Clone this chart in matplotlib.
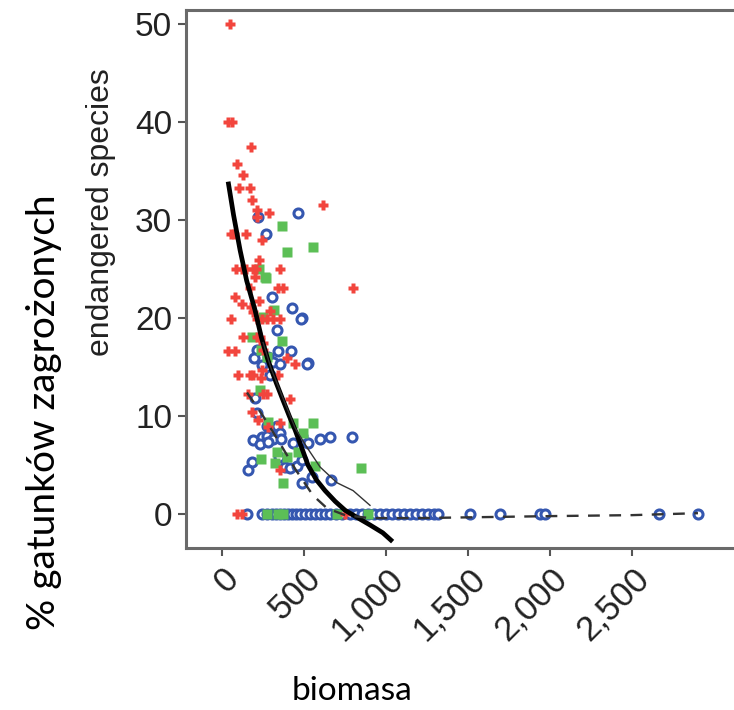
import numpy as np
import matplotlib.pyplot as plt

plt.rcParams['font.family'] = ['Liberation Sans', 'DejaVu Sans']

# red series (+)
red_x = [49, 35, 63, 177, 92, 128, 104, 171, 183, 213, 287, 616, 213, 55, 75, 146, 244, 226,
         85, 122, 146, 189, 207, 354, 201, 799, 341, 372, 171, 79, 226, 122, 177, 189, 293,
         55, 213, 244, 274, 311, 354, 128, 213, 232, 250, 37, 79, 250, 396, 445, 98, 171,
         189, 238, 341, 244, 159, 250, 274, 415, 183, 220, 354, 280, 354, 91, 122, 750]
red_y = [50, 40, 40, 37.4, 35.7, 34.6, 33.3, 33.3, 32.0, 31.0, 30.7, 31.5, 30.3, 28.6, 28.6,
         28.6, 28.0, 25.9, 25.0, 25.0, 25.0, 25.0, 25.0, 25.0, 24.2, 23.1, 23.1, 23.1, 23.1,
         22.1, 21.7, 21.4, 21.1, 20.6, 20.7, 19.9, 19.9, 19.9, 19.9, 19.9, 19.9, 18.1, 18.1,
         18.1, 17.4, 16.6, 16.6, 16.7, 15.9, 15.3, 14.2, 14.2, 14.2, 13.9, 14.2, 14.7, 12.3,
         12.3, 12.3, 11.7, 10.4, 9.6, 9.3, 8.9, 4.5, 0, 0, 0]

# green series (squares)
green_x = [366, 396, 555, 226, 262, 268, 250, 317, 183, 366, 238, 274, 229, 280, 433, 494,
           555, 238, 335, 463, 323, 396, 372, 567, 848, 274, 341, 372, 701, 890]
green_y = [29.4, 26.7, 27.2, 25.0, 24.2, 24.1, 20.1, 20.8, 18.1, 17.7, 16.7, 16.0, 12.7, 9.4,
           9.3, 8.3, 9.3, 5.6, 6.3, 6.3, 5.2, 5.8, 3.2, 4.9, 4.7, 0, 0, 0, 0, 0]

# blue series (open circles)
blue_x = [219, 463, 268, 488, 524, 305, 427, 482, 335, 213, 341, 421, 195, 280, 311, 354,
          518, 293, 244, 201, 213, 274, 335, 293, 354, 244, 274, 311, 360, 189, 232, 280,
          433, 485, 521, 348, 183, 159, 384, 415, 457, 488, 598, 659, 793, 488, 549, 665]
blue_y = [30.3, 30.7, 28.6, 20.0, 15.4, 22.1, 21.0, 19.9, 18.8, 16.7, 16.6, 16.6, 15.9, 16.0,
          15.5, 15.3, 15.3, 14.2, 15.2, 11.8, 10.3, 9.0, 9.0, 8.3, 8.3, 7.9, 8.0, 7.7, 7.7,
          7.6, 7.2, 7.4, 7.3, 8.0, 7.3, 5.8, 5.3, 4.5, 4.8, 4.7, 4.9, 3.2, 7.7, 7.9, 7.9, 5.5,
          3.8, 3.5]
blue_zero_x = [152, 244, 274, 305, 329, 354, 378, 402, 427, 451, 476, 506, 537, 567, 598,
               628, 659, 695, 732, 780, 817, 854, 890, 927, 963, 1000, 1037, 1073, 1110,
               1146, 1183, 1220, 1256, 1293, 1317, 1512, 1695, 1939, 1970, 2665, 2902]

# trend lines
thick_x = [37, 70, 110, 150, 201, 240, 280, 330, 372, 410, 445, 485, 524, 575, 628, 690,
           750, 830, 902, 980, 1040]
thick_y = [33.9, 30.5, 26.9, 23.8, 20.8, 18.0, 15.7, 13.4, 11.6, 10.0, 8.6, 6.8, 5.0, 3.5,
           2.4, 1.3, 0.4, -0.4, -1.1, -1.9, -2.8]
thin_x = [250, 300, 372, 445, 518, 598, 701, 799, 902]
thin_y = [17.5, 14.8, 11.8, 8.8, 6.8, 4.8, 3.2, 2.4, 0.9]
dash_x = [152, 250, 350, 450, 555, 640, 750, 900, 1200, 1600, 2000, 2500, 2902]
dash_y = [12.4, 10.0, 7.3, 4.5, 1.9, 0.6, -0.1, -0.4, -0.4, -0.3, -0.2, -0.1, 0.1]

xticks = [0, 500, 1000, 1500, 2000, 2500]
xtick_labels = ["0", "500", "1,000", "1,500", "2,000", "2,500"]
yticks = [0, 10, 20, 30, 40, 50]

fig = plt.figure(figsize=(7.34, 7.10), dpi=100)
ax = fig.add_axes([186 / 734, 162 / 710, 560 / 734, 538 / 710])

ax.plot(blue_zero_x, np.zeros(len(blue_zero_x)), 'o', ms=6.5, mfc='white', mec='#3557b0', mew=2.2, zorder=3)
ax.plot(blue_x, blue_y, 'o', ms=6.5, mfc='white', mec='#3557b0', mew=2.2, zorder=3)
ax.plot(green_x, green_y, 's', ms=6.5, color='#5cbf56', mec='none', zorder=3)
ax.plot(red_x, red_y, 'P', ms=7, color='#f2453d', mec='none', zorder=3)

ax.plot(thick_x, thick_y, color='black', lw=3.4, zorder=4, solid_capstyle='butt')
ax.plot(thin_x, thin_y, color='#333333', lw=1.0, zorder=4)
ax.plot(dash_x, dash_y, color='#333333', lw=1.7, ls=(0, (5, 4)), zorder=4)

ax.set_xlim(-220, 3195)
ax.set_ylim(-3.45, 51.4)
ax.set_xticks(xticks)
ax.set_xticklabels(xtick_labels, rotation=45, ha='right', rotation_mode='anchor',
                   fontsize=25, color='#222222')
ax.set_yticks(yticks)
ax.set_yticklabels([str(v) for v in yticks], fontsize=24, color='#222222')
ax.tick_params(length=6, width=1.5, color='#555555', pad=4)

for s in ['left', 'bottom', 'top']:
    ax.spines[s].set_color('#6a6a6a')
    ax.spines[s].set_linewidth(2.2)
ax.spines['right'].set_visible(False)

ax.set_ylabel("endangered species", fontsize=23, color='#222222')
ax.yaxis.set_label_coords(-0.125, 0.625)

fig.text(44 / 734, 1 - 412 / 710, "% gatunków zagrożonych", rotation=90, ha='center', va='center',
         fontsize=28, family='Lato')
fig.text(352 / 734, 1 - 691 / 710, "biomasa", ha='center', va='center', fontsize=24, family='Lato')

fig.savefig("out.png", dpi=100)
